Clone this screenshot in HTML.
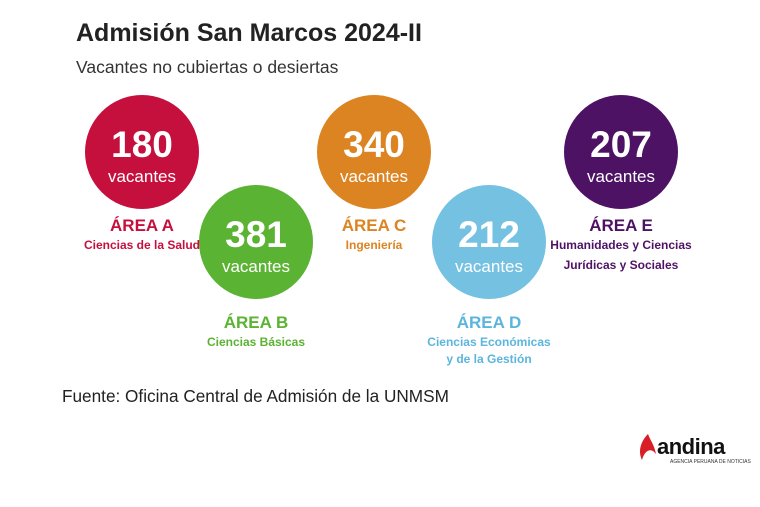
<!DOCTYPE html>
<html><head><meta charset="utf-8"><style>
body{margin:0;width:760px;height:507px;background:#fff;font-family:"Liberation Sans",sans-serif;position:relative;overflow:hidden}
.a{position:absolute}
.c{position:absolute;width:114px;height:114px;border-radius:50%;color:#fff;text-align:center}
.c b{display:block;font-size:37px;margin-top:32px;line-height:36px}
.c span{display:block;font-size:17px;line-height:20px;margin-top:4px}
.l{position:absolute;text-align:center;font-weight:bold;width:200px}
.l .h{font-size:17px;line-height:18px}
.l .s{font-size:12px;line-height:20px}
</style></head><body>
<div class="a" style="left:76px;top:19px;font-size:25px;font-weight:bold;color:#222">Admisión San Marcos 2024-II</div>
<div class="a" style="left:76px;top:57px;font-size:17.5px;color:#333">Vacantes no cubiertas o desiertas</div>

<div class="c" style="left:85px;top:95px;background:#c5103e"><b>180</b><span>vacantes</span></div>
<div class="c" style="left:199px;top:185px;background:#5ab332"><b>381</b><span>vacantes</span></div>
<div class="c" style="left:317px;top:95px;background:#dc8422"><b>340</b><span>vacantes</span></div>
<div class="c" style="left:432px;top:185px;background:#74c1e2"><b>212</b><span>vacantes</span></div>
<div class="c" style="left:564px;top:95px;background:#4e1265"><b>207</b><span>vacantes</span></div>

<div class="l" style="left:42px;top:217px;color:#c5103e"><div class="h">ÁREA A</div><div class="s">Ciencias de la Salud</div></div>
<div class="l" style="left:156px;top:314px;color:#5ab332"><div class="h">ÁREA B</div><div class="s">Ciencias Básicas</div></div>
<div class="l" style="left:274px;top:217px;color:#dc8422"><div class="h">ÁREA C</div><div class="s">Ingeniería</div></div>
<div class="l" style="left:389px;top:314px;color:#5bb5dc"><div class="h">ÁREA D</div><div class="s" style="line-height:17px;margin-top:2px">Ciencias Económicas<br>y de la Gestión</div></div>
<div class="l" style="left:521px;top:217px;color:#4e1265"><div class="h">ÁREA E</div><div class="s">Humanidades y Ciencias<br>Jurídicas y Sociales</div></div>

<div class="a" style="left:62px;top:386px;font-size:17.2px;color:#222">Fuente: Oficina Central de Admisión de la UNMSM</div>

<svg class="a" style="left:636px;top:432px" width="22" height="30"><path d="M12 2 C4 10 2 20 6 28 C8 20 14 14 20 22 C18 12 14 8 12 2Z" fill="#d81f26"/></svg>
<div class="a" style="left:657px;top:434px;font-size:22px;font-weight:bold;color:#111;letter-spacing:-0.5px">andina</div>
<div class="a" style="left:670px;top:459px;font-size:5px;color:#333">AGENCIA PERUANA DE NOTICIAS</div>
</body></html>
